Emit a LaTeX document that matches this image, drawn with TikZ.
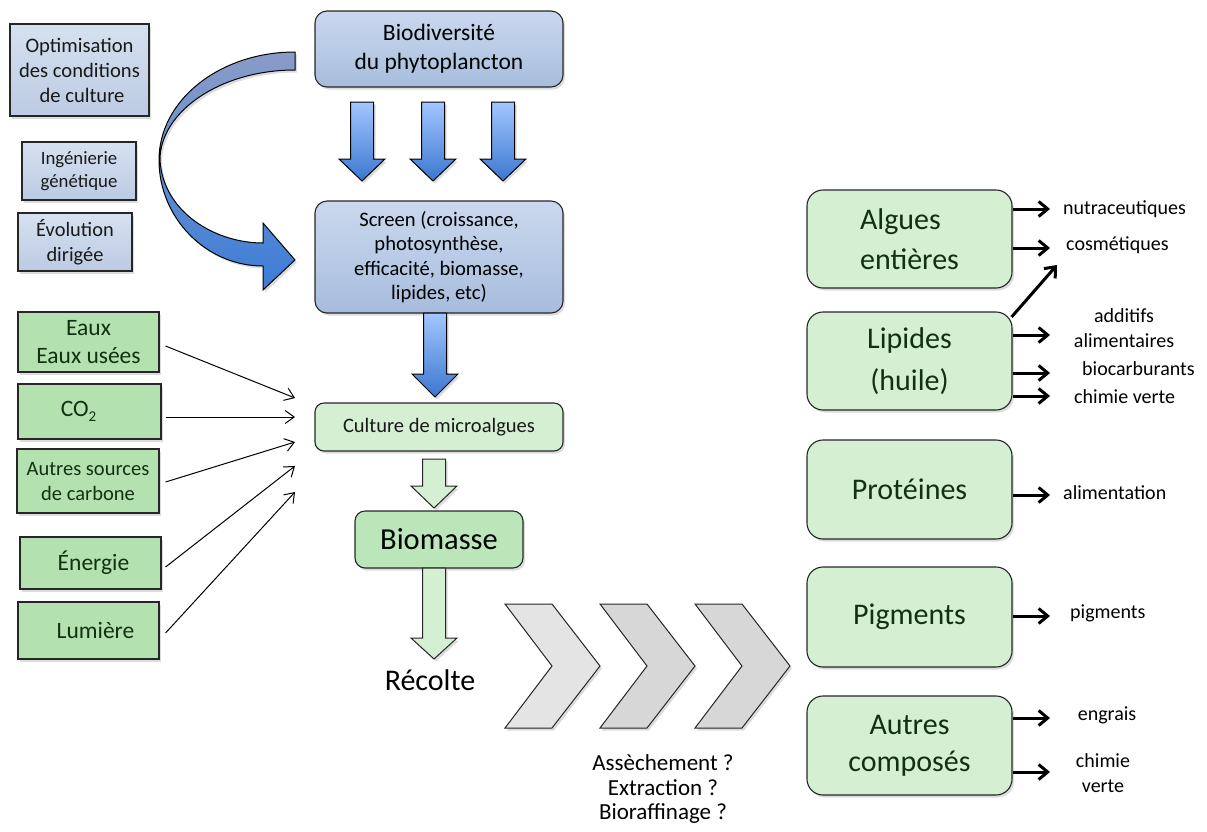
\documentclass[tikz,border=0pt]{standalone}
\usepackage{fontspec}
\setmainfont{Carlito}
\usetikzlibrary{arrows.meta,shadows}
\newcommand{\fz}[2]{\fontsize{#1}{#2}\selectfont}
\definecolor{lbA}{HTML}{D6E1F0}
\definecolor{lbB}{HTML}{BCCBE3}
\definecolor{bbA}{HTML}{CAD8EE}
\definecolor{bbB}{HTML}{A7BDDD}
\definecolor{arA}{HTML}{A3C6FF}
\definecolor{arB}{HTML}{3B77CF}
\definecolor{cvA}{HTML}{8A9CC8}
\definecolor{cvB}{HTML}{3C7DD8}
\definecolor{gL}{HTML}{B3E2B0}
\definecolor{gP}{HTML}{D5EFD3}
\definecolor{gM}{HTML}{BBE6B9}
\definecolor{gtxt}{HTML}{123012}
\definecolor{chA}{HTML}{E4E4E4}
\definecolor{chB}{HTML}{D7D7D7}
\newcommand{\blkarrow}[5]{%
  \path[#5] (#1-11.5,#2) -- (#1+11.5,#2) -- (#1+11.5,#3) -- (#1+23,#3) -- (#1,#4)
    -- (#1-23,#3) -- (#1-11.5,#3) -- cycle;}
\newcommand{\chevshape}[2]{%
  \path[chev, fill=#2] (#1,604) -- (#1+47,604) -- (#1+95,666) -- (#1+47,728)
    -- (#1,728) -- (#1+47,666) -- cycle;}
\begin{document}
\begin{tikzpicture}[x=1pt,y=-1pt,
  shad/.style={drop shadow={opacity=0.28,shadow xshift=2pt,shadow yshift=-2.5pt}},
  lbox/.style={draw=black!85, line width=1.1pt, top color=lbA, bottom color=lbB,
    inner sep=0pt, align=center, text=black!90, shad},
  bbox/.style={draw=black!85, line width=1.1pt, top color=bbA, bottom color=bbB,
    rounded corners=12pt, inner sep=0pt, align=center, text=black, shad},
  gbox/.style={draw=black!85, line width=1.1pt, fill=gL, inner sep=0pt,
    align=center, text=gtxt, font=\fz{23.5}{28}, shad},
  pbox/.style={draw=black!85, line width=1.1pt, fill=gP, rounded corners=16pt,
    inner sep=0pt, align=center, text=gtxt, font=\fz{30}{37}, shad,
    minimum width=205pt},
  blue arrow/.style={draw=black, line width=1pt, top color=arA, bottom color=arB, shad},
  green arrow/.style={draw=black!85, line width=1pt, fill=gP, shad},
  chev/.style={draw=black!85, line width=1pt, shad},
  thin arrow/.style={draw=black, line width=1pt, -{Straight Barb[length=9pt,width=13pt]}},
  thick arrow/.style={draw=black, line width=3pt, -{Straight Barb[length=9pt,width=15pt]}},
  lab/.style={inner sep=0pt, font=\fz{20}{25}, text=black, align=center}
]
\useasboundingbox (0,0) rectangle (1207,831);

% left blue boxes
\node[lbox, font=\fz{20.6}{25}, minimum width=139pt, minimum height=92pt] (opt) at (79.5,70)
  {Optimisation\\des conditions\\\hspace*{5pt}de culture};
\node[lbox, font=\fz{18.8}{23}, minimum width=114pt, minimum height=58pt] (ing) at (79,171)
  {Ingénierie\\génétique};
\node[lbox, font=\fz{20.4}{25}, minimum width=114pt, minimum height=58pt] (evo) at (75,242)
  {Évolution\\dirigée};

% curved arrow
\path[draw=black, line width=1pt, top color=cvA, bottom color=cvB, shad]
  (295,52) .. controls (220,52) and (159,100) .. (159,160)
  .. controls (159,218) and (206,266) .. (263,266)
  -- (263,290) -- (295,260) -- (263,223) -- (263,243)
  .. controls (215,243) and (163,212) .. (160,160)
  .. controls (160,112) and (220,70) .. (295,70) -- cycle;

% central column
\node[bbox, font=\fz{23.5}{29}, minimum width=248pt, minimum height=76pt] (bio) at (439,49)
  {Biodiversité\\du phytoplancton};
\node[bbox, font=\fz{20.6}{24.5}, minimum width=248pt, minimum height=112pt] (screen) at (439,257)
  {Screen (croissance,\\photosynthèse,\\efficacité, biomasse,\\lipides, etc)};
\blkarrow{362}{102}{159}{181}{blue arrow}
\blkarrow{433}{102}{159}{181}{blue arrow}
\blkarrow{503}{102}{159}{181}{blue arrow}
\blkarrow{435}{313}{374}{397}{blue arrow}

\node[draw=black!85, line width=1.1pt, fill=gP, rounded corners=9pt, inner sep=0pt,
  text=black!90, font=\fz{20.5}{24}, minimum width=248pt, minimum height=48pt, shad]
  (culture) at (439,427) {Culture de microalgues};
\blkarrow{434}{459}{486}{508}{green arrow}
\node[draw=black!85, line width=1.1pt, fill=gM, rounded corners=10pt, inner sep=0pt,
  text=black, font=\fz{30.5}{36}, minimum width=168pt, minimum height=57pt, shad]
  (biomasse) at (439,539.5) {Biomasse};
\blkarrow{434}{568}{638}{659}{green arrow}
\node[inner sep=0pt, font=\fz{30}{36}] (recolte) at (430,680) {Récolte};

% left green boxes
\node[gbox, minimum width=141pt, minimum height=60pt] (eaux) at (88.5,342) {Eaux\\Eaux usées};
\node[gbox, minimum width=143pt, minimum height=55pt] (co2) at (89.5,411.5)
  {CO\raisebox{-0.45ex}{\fz{15}{15}2}\hspace*{22pt}};
\node[gbox, font=\fz{20.5}{25}, minimum width=142pt, minimum height=64pt] (autres) at (88,481)
  {Autres sources\\de carbone};
\node[gbox, minimum width=141pt, minimum height=52pt] (energie) at (90.5,563) {\hspace*{6pt}Énergie};
\node[gbox, minimum width=141pt, minimum height=57pt] (lumiere) at (88.5,630.5) {\hspace*{14pt}Lumière};

\coordinate (c1) at (295,398);
\coordinate (c2) at (295,417);
\coordinate (c3) at (295,442);
\coordinate (c4) at (295,466);
\coordinate (c5) at (295,492);
\draw[thin arrow] ([shift={(6,4)}]eaux.east) -- (c1);
\draw[thin arrow] ([shift={(4,5.5)}]co2.east) -- (c2);
\draw[thin arrow] ([shift={(6,1)}]autres.east) -- (c3);
\draw[thin arrow] ([shift={(4,4)}]energie.east) -- (c4);
\draw[thin arrow] ([shift={(6,2.5)}]lumiere.east) -- (c5);

% chevrons
\chevshape{505}{chA}
\chevshape{600}{chB}
\chevshape{695}{chB}
\node[inner sep=0pt, font=\fz{23}{24.5}, align=center] (steps) at (663,789)
  {Assèchement ?\\Extraction ?\\Bioraffinage ?};

% right boxes
\node[pbox, minimum height=98pt, align=left, font=\fz{30}{40}] (algues) at (909.5,239) {Algues\\entières};
\node[pbox, minimum height=98pt, font=\fz{30}{42}] (lipides) at (909.5,361) {Lipides\\(huile)};
\node[pbox, minimum height=99pt] (proteines) at (909.5,489.5) {Protéines};
\node[pbox, minimum height=100pt] (pigments) at (909.5,617) {Pigments};
\node[pbox, minimum height=99pt] (autresc) at (909.5,745.5) {Autres\\composés};

% labels
\node[lab, anchor=west] (nutra) at (1063,209) {nutraceutiques};
\node[lab, anchor=west] (cosm) at (1066,245) {cosmétiques};
\node[lab] (addit) at (1124,328) {additifs\\alimentaires};
\node[lab, anchor=west] (biocarb) at (1082,369) {biocarburants};
\node[lab, anchor=west] (chim1) at (1074,397) {chimie verte};
\node[lab, anchor=west] (alim) at (1063,493) {alimentation};
\node[lab, anchor=west] (pigm) at (1070,613) {pigments};
\node[lab] (engrais) at (1107,715) {engrais};
\node[lab] (chim2) at (1103,773) {chimie\\verte};

\coordinate (e1) at (1050,209);
\coordinate (e2) at (1050,248);
\coordinate (e3) at (1057,265);
\coordinate (e4) at (1050,335);
\coordinate (e5) at (1050,373);
\coordinate (e6) at (1050,396);
\coordinate (e7) at (1050,495);
\coordinate (e8) at (1050,616);
\coordinate (e9) at (1050,718);
\coordinate (e10) at (1050,772);
\draw[thick arrow] (algues.east |- e1) -- (e1);
\draw[thick arrow] (algues.east |- e2) -- (e2);
\draw[thick arrow] ([shift={(-1,-44)}]lipides.east) -- (e3);
\draw[thick arrow] (lipides.east |- e4) -- (e4);
\draw[thick arrow] (lipides.east |- e5) -- (e5);
\draw[thick arrow] (lipides.east |- e6) -- (e6);
\draw[thick arrow] (proteines.east |- e7) -- (e7);
\draw[thick arrow] (pigments.east |- e8) -- (e8);
\draw[thick arrow] (autresc.east |- e9) -- (e9);
\draw[thick arrow] (autresc.east |- e10) -- (e10);
\end{tikzpicture}
\end{document}
